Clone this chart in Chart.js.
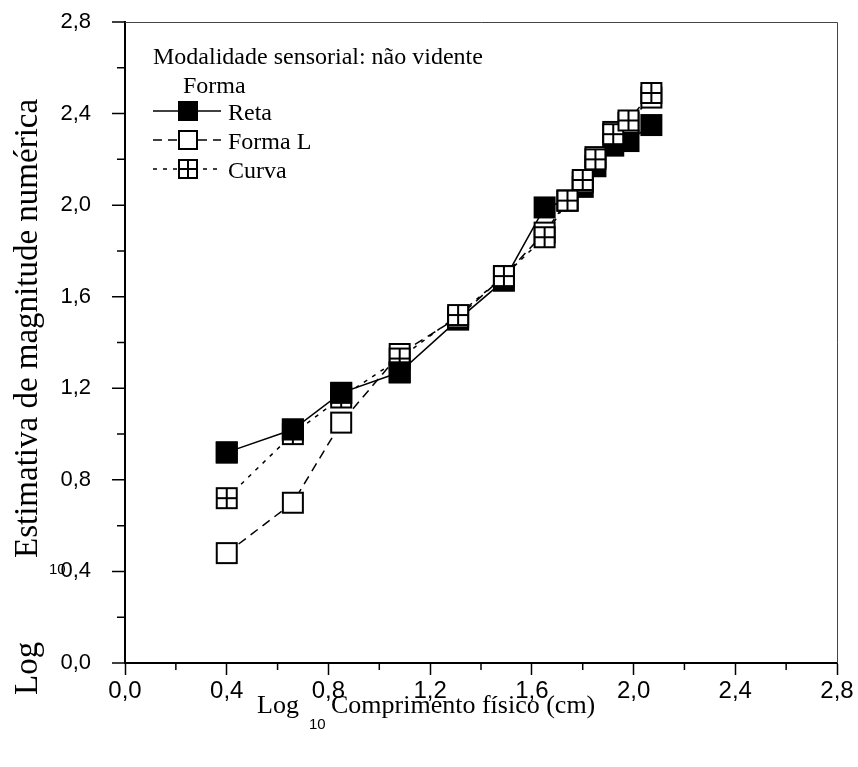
<!DOCTYPE html>
<html>
<head>
<meta charset="utf-8">
<script src="https://cdn.jsdelivr.net/npm/chart.js@4.4.1/dist/chart.umd.min.js"></script>
<style>
  body { margin: 0; background: #fff; }
  #wrap { width: 858px; height: 767px; }
</style>
</head>
<body>
<div id="wrap"><canvas id="chart" width="858" height="767"></canvas></div>
<script>
// log10 physical length (cm)
const comprimento = [0.40, 0.66, 0.85, 1.08, 1.31, 1.49, 1.65, 1.74, 1.80, 1.85, 1.92, 1.98, 2.07];
// log10 numeric magnitude estimates
const reta   = [0.92, 1.02, 1.18, 1.27, 1.50, 1.67, 1.99, 2.02, 2.08, 2.17, 2.26, 2.28, 2.35];
const formaL = [0.48, 0.70, 1.05, 1.35, 1.51, 1.69, 1.88, 2.02, 2.10, 2.21, 2.32, 2.36, 2.47];
const curva  = [0.72, 1.00, 1.16, 1.33, 1.52, 1.69, 1.86, 2.02, 2.11, 2.20, 2.31, 2.37, 2.49];

const xTicks = [0, 0.4, 0.8, 1.2, 1.6, 2.0, 2.4, 2.8];
const yTicks = [0, 0.4, 0.8, 1.2, 1.6, 2.0, 2.4, 2.8];

const serif = '"Liberation Serif", "Times New Roman", serif';
const sans = '"Liberation Sans", Arial, sans-serif';

// square markers: filled, open, open with a cross
function marker(kind, size) {
  const c = document.createElement('canvas');
  c.width = size + 2; c.height = size + 2;
  const g = c.getContext('2d');
  const o = 1, s = size;
  g.lineWidth = 2;
  g.strokeStyle = '#000';
  g.fillStyle = kind === 'filled' ? '#000' : '#fff';
  g.fillRect(o, o, s, s);
  g.strokeRect(o + 1, o + 1, s - 2, s - 2);
  if (kind === 'cross') {
    g.beginPath();
    g.moveTo(o + s / 2, o + 1); g.lineTo(o + s / 2, o + s - 1);
    g.moveTo(o + 1, o + s / 2); g.lineTo(o + s - 1, o + s / 2);
    g.stroke();
  }
  return c;
}

const series = [
  { label: 'Reta', data: reta, kind: 'filled', dash: [], order: 2 },
  { label: 'Forma L', data: formaL, kind: 'open', dash: [9, 6], order: 1 },
  { label: 'Curva', data: curva, kind: 'cross', dash: [4, 6], order: 0 }
];

const datasets = series.map(s => ({
  label: s.label,
  data: comprimento.map((x, i) => ({ x: x, y: s.data[i] })),
  borderColor: '#000',
  borderWidth: 1.5,
  borderDash: s.dash,
  pointStyle: marker(s.kind, 22),
  order: s.order,
  tension: 0
}));

// in the lower part the filled squares sit over the crossed ones
datasets.push({
  label: 'Reta (frente)',
  data: comprimento.slice(0, 4).map((x, i) => ({ x: x, y: reta[i] })),
  showLine: false,
  pointStyle: marker('filled', 22),
  order: -1
});

const fmt = v => Number(v).toFixed(1).replace('.', ',');

// y ticks (major+minor), x minor ticks, top/right frame
const framePlugin = {
  id: 'frame',
  afterDraw(chart) {
    const { ctx, chartArea: a } = chart;
    const xs = chart.scales.x, ys = chart.scales.y;
    ctx.save();
    ctx.strokeStyle = '#444';
    ctx.lineWidth = 1;
    ctx.beginPath();
    ctx.moveTo(a.left, a.top + 0.5); ctx.lineTo(a.right + 0.5, a.top + 0.5);
    ctx.lineTo(a.right + 0.5, a.bottom);
    ctx.stroke();
    ctx.strokeStyle = '#000';
    ctx.lineWidth = 1.5;
    ctx.beginPath();
    for (let i = 0; i < xTicks.length - 1; i++) {
      const px = xs.getPixelForValue((xTicks[i] + xTicks[i + 1]) / 2);
      ctx.moveTo(px, a.bottom); ctx.lineTo(px, a.bottom + 7);
    }
    yTicks.forEach(v => {
      const py = ys.getPixelForValue(v);
      ctx.moveTo(a.left, py); ctx.lineTo(a.left - 13, py);
    });
    for (let i = 0; i < yTicks.length - 1; i++) {
      const py = ys.getPixelForValue((yTicks[i] + yTicks[i + 1]) / 2);
      ctx.moveTo(a.left, py); ctx.lineTo(a.left - 8, py);
    }
    ctx.stroke();
    ctx.restore();
  }
};

// axis titles with subscript and the legend block
const textPlugin = {
  id: 'texts',
  afterDraw(chart) {
    const ctx = chart.ctx;
    ctx.save();
    ctx.fillStyle = '#000';
    ctx.textBaseline = 'alphabetic';
    ctx.textAlign = 'left';

    // x title
    ctx.font = '26px ' + serif;
    ctx.fillText('Log', 257, 713);
    ctx.fillText('Comprimento físico (cm)', 331, 713);
    ctx.font = '15px ' + sans;
    ctx.fillText('10', 309, 729);

    // y title
    ctx.save();
    ctx.translate(37, 695);
    ctx.rotate(-Math.PI / 2);
    ctx.font = '33px ' + serif;
    ctx.fillText('Log', 0, 0);
    ctx.fillText('Estimativa de magnitude numérica', 137, 0);
    ctx.restore();
    ctx.font = '15px ' + sans;
    ctx.fillText('10', 49, 574);

    // legend
    ctx.font = '24px ' + serif;
    ctx.fillText('Modalidade sensorial: não vidente', 153, 64);
    ctx.fillText('Forma', 183, 93);
    const rows = [111, 140, 169];
    series.forEach((s, i) => {
      const y = rows[i];
      ctx.save();
      ctx.strokeStyle = '#000';
      ctx.lineWidth = 1.5;
      ctx.setLineDash(s.dash);
      ctx.beginPath();
      ctx.moveTo(153, y); ctx.lineTo(221, y);
      ctx.stroke();
      ctx.restore();
      const m = marker(s.kind, 20);
      ctx.drawImage(m, 188 - m.width / 2, y - m.height / 2);
      ctx.fillText(s.label, 228, y + 9);
    });
    ctx.restore();
  }
};

new Chart(document.getElementById('chart'), {
  type: 'line',
  data: { datasets: datasets },
  options: {
    responsive: false,
    animation: false,
    layout: { padding: { left: 0, top: 22, right: 21, bottom: 0 } },
    plugins: { legend: { display: false }, tooltip: { enabled: false } },
    elements: { point: { radius: 11, hoverRadius: 11 } },
    scales: {
      x: {
        type: 'linear',
        min: 0, max: 2.8,
        afterBuildTicks: s => { s.ticks = xTicks.map(v => ({ value: v })); },
        afterFit: s => { s.height = 104; },
        ticks: { callback: fmt, color: '#000', font: { family: sans, size: 24 }, padding: 2, maxRotation: 0 },
        grid: { drawOnChartArea: false, tickLength: 12, tickColor: '#000', tickWidth: 1.5 },
        border: { color: '#000', width: 2 }
      },
      y: {
        type: 'linear',
        min: 0, max: 2.8,
        afterBuildTicks: s => { s.ticks = yTicks.map(v => ({ value: v })); },
        afterFit: s => { s.width = 125; },
        ticks: { callback: fmt, color: '#000', font: { family: sans, size: 22 }, padding: 2 },
        grid: { drawOnChartArea: false, tickLength: 32, tickColor: 'rgba(0,0,0,0)' },
        border: { color: '#000', width: 2 }
      }
    }
  },
  plugins: [framePlugin, textPlugin]
});
</script>
</body>
</html>
